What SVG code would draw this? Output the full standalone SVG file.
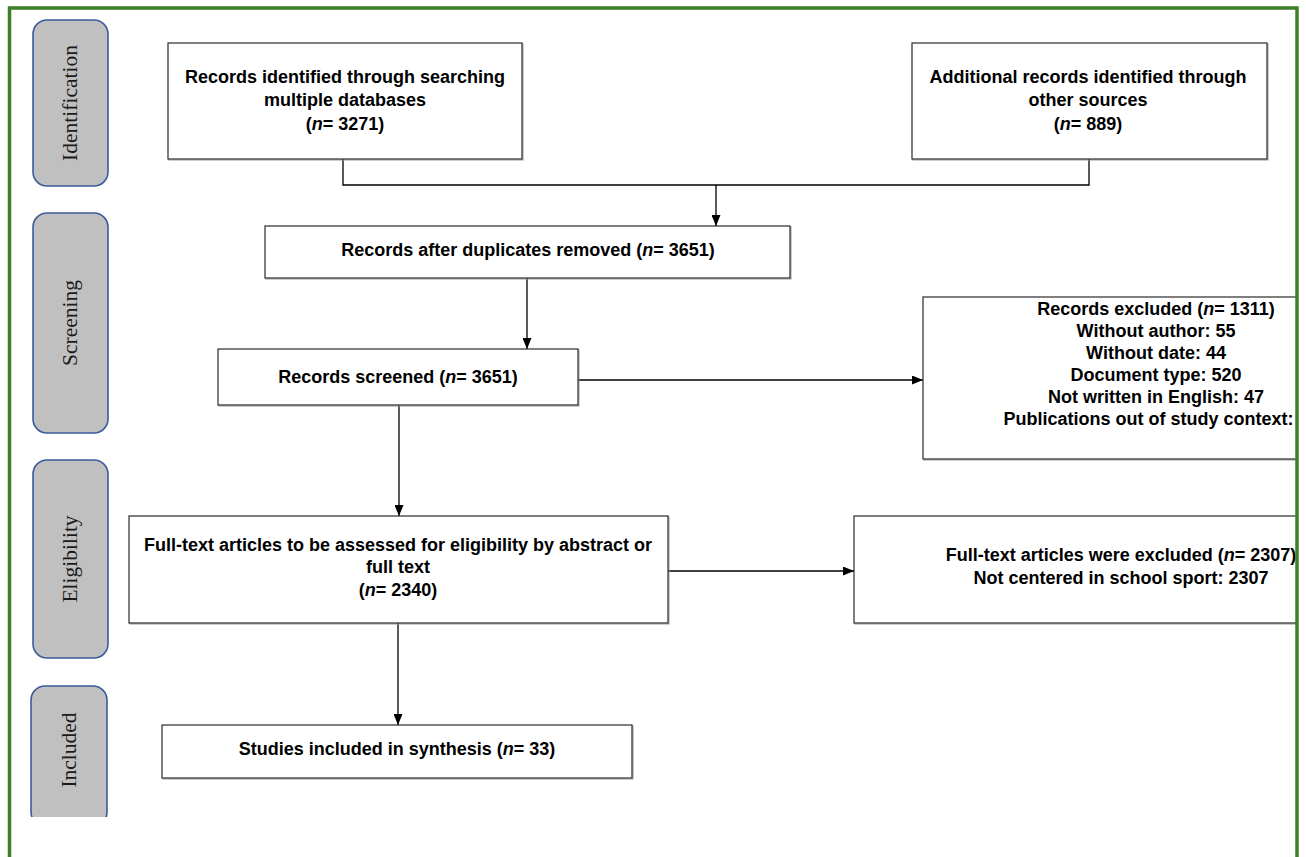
<svg xmlns="http://www.w3.org/2000/svg" width="1306" height="857" viewBox="0 0 1306 857">
<style>
.stage{fill:#c0c0c0;stroke:#3a5b9a;stroke-width:1.6}
.stxt{font-family:"Liberation Serif","Times New Roman",serif;font-size:21.5px;fill:#1a1a1a;text-anchor:middle;dominant-baseline:central}
.box{fill:#ffffff;stroke:#2a2a2a;stroke-width:1.2}
.shadow{fill:none;stroke:#9a9a9a;stroke-width:1}
.t{font-family:"Liberation Sans",Arial,sans-serif;font-size:18px;font-weight:bold;fill:#000;text-anchor:middle}
.conn{fill:none;stroke:#000;stroke-width:1.3}
.frame{stroke:#3f7f2a;stroke-width:3.5;fill:none}
</style>
<defs>
<marker id="arr" markerWidth="11" markerHeight="9" refX="11" refY="4.5" orient="auto" markerUnits="userSpaceOnUse">
<path d="M0,0 L11,4.5 L0,9 z" fill="#000"/>
</marker>
<clipPath id="inner"><rect x="0" y="0" width="1296" height="857"/></clipPath>
<clipPath id="bottomcut"><rect x="0" y="0" width="1306" height="817"/></clipPath>
</defs>
<rect x="0" y="0" width="1306" height="857" fill="#ffffff"/>

<g id="stage-identification">
<rect class="stage" x="33" y="20" width="75" height="166" rx="14"/>
<text class="stxt" transform="translate(70,103) rotate(-90)">Identification</text>
</g>
<g id="stage-screening">
<rect class="stage" x="33" y="213" width="75" height="220" rx="14"/>
<text class="stxt" transform="translate(70,323) rotate(-90)">Screening</text>
</g>
<g id="stage-eligibility">
<rect class="stage" x="33" y="460" width="75" height="198" rx="14"/>
<text class="stxt" transform="translate(70,559) rotate(-90)">Eligibility</text>
</g>
<g id="stage-included" clip-path="url(#bottomcut)">
<rect class="stage" x="31" y="686" width="76" height="140" rx="14"/>
<text class="stxt" transform="translate(69,750) rotate(-90)">Included</text>
</g>

<g clip-path="url(#inner)">
<g id="connectors">
<path class="conn" d="M343,159 V185 H1089 V159"/>
<path class="conn" d="M716,185 V226" marker-end="url(#arr)"/>
<path class="conn" d="M527,278 V349" marker-end="url(#arr)"/>
<path class="conn" d="M578,380 H923" marker-end="url(#arr)"/>
<path class="conn" d="M399,405 V516" marker-end="url(#arr)"/>
<path class="conn" d="M668,571 H854" marker-end="url(#arr)"/>
<path class="conn" d="M398,623 V725" marker-end="url(#arr)"/>
</g>

<g id="box-databases">
<rect class="shadow" x="169" y="44" width="354" height="116"/>
<rect class="box" x="168" y="43" width="354" height="116"/>
<text class="t" x="345" y="83">Records identified through searching</text>
<text class="t" x="345" y="106">multiple databases</text>
<text class="t" x="345" y="130">(<tspan font-style="italic">n</tspan>= 3271)</text>
</g>

<g id="box-other">
<rect class="shadow" x="913" y="44" width="355" height="116"/>
<rect class="box" x="912" y="43" width="355" height="116"/>
<text class="t" x="1088" y="83">Additional records identified through</text>
<text class="t" x="1088" y="106">other sources</text>
<text class="t" x="1088" y="130">(<tspan font-style="italic">n</tspan>= 889)</text>
</g>

<g id="box-duplicates">
<rect class="shadow" x="266" y="227" width="525" height="52"/>
<rect class="box" x="265" y="226" width="525" height="52"/>
<text class="t" x="528" y="256">Records after duplicates removed (<tspan font-style="italic">n</tspan>= 3651)</text>
</g>

<g id="box-screened">
<rect class="shadow" x="219" y="350" width="360" height="56"/>
<rect class="box" x="218" y="349" width="360" height="56"/>
<text class="t" x="398" y="383">Records screened (<tspan font-style="italic">n</tspan>= 3651)</text>
</g>

<g id="box-excluded">
<rect class="shadow" x="924" y="298" width="400" height="162"/>
<rect class="box" x="923" y="297" width="400" height="162"/>
<text class="t" x="1156" y="315">Records excluded (<tspan font-style="italic">n</tspan>= 1311)</text>
<text class="t" x="1156" y="337">Without author: 55</text>
<text class="t" x="1156" y="359">Without date: 44</text>
<text class="t" x="1156" y="381">Document type: 520</text>
<text class="t" x="1156" y="403">Not written in English: 47</text>
<text class="t" x="1156" y="425">Publications out of study context: 6</text>
</g>

<g id="box-fulltext">
<rect class="shadow" x="130" y="517" width="539" height="107"/>
<rect class="box" x="129" y="516" width="539" height="107"/>
<text class="t" x="398" y="551">Full-text articles to be assessed for eligibility by abstract or</text>
<text class="t" x="398" y="573">full text</text>
<text class="t" x="398" y="596">(<tspan font-style="italic">n</tspan>= 2340)</text>
</g>

<g id="box-fulltext-excluded">
<rect class="shadow" x="855" y="517" width="470" height="107"/>
<rect class="box" x="854" y="516" width="470" height="107"/>
<text class="t" x="1121" y="561">Full-text articles were excluded (<tspan font-style="italic">n</tspan>= 2307)</text>
<text class="t" x="1121" y="584">Not centered in school sport: 2307</text>
</g>

<g id="box-included">
<rect class="shadow" x="163" y="726" width="470" height="53"/>
<rect class="box" x="162" y="725" width="470" height="53"/>
<text class="t" x="397" y="755">Studies included in synthesis (<tspan font-style="italic">n</tspan>= 33)</text>
</g>
</g>

<g id="frame">
<path class="frame" d="M9.5,857 V8 H1297 V857"/>
</g>
</svg>
